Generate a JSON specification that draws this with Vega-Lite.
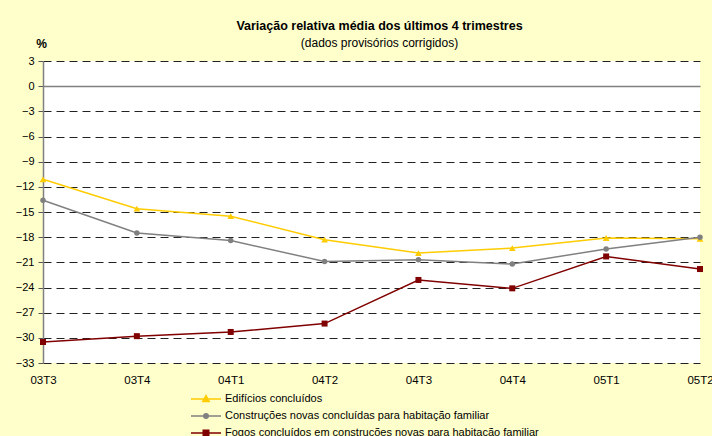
{
  "$schema": "https://vega.github.io/schema/vega-lite/v6.json",
  "width": 657,
  "height": 302,
  "autosize": {"type": "none"},
  "padding": {"left": 43, "top": 61, "right": 12, "bottom": 73},
  "background": "#FFFFCC",
  "config": {
    "font": "Liberation Sans",
    "view": {"fill": "white", "stroke": null}
  },
  "title": {
    "text": "Variação relativa média dos últimos 4 trimestres",
    "subtitle": "(dados provisórios corrigidos)",
    "anchor": "middle",
    "dx": 8,
    "fontSize": 12.5,
    "fontWeight": "bold",
    "color": "black",
    "subtitleFontSize": 12,
    "subtitleColor": "black",
    "subtitlePadding": 6,
    "offset": -12
  },
  "data": {
    "values": [
      {"trimestre": "03T3", "serie": "Edifícios concluídos", "valor": -11.1},
      {"trimestre": "03T4", "serie": "Edifícios concluídos", "valor": -14.6},
      {"trimestre": "04T1", "serie": "Edifícios concluídos", "valor": -15.5},
      {"trimestre": "04T2", "serie": "Edifícios concluídos", "valor": -18.3},
      {"trimestre": "04T3", "serie": "Edifícios concluídos", "valor": -19.9},
      {"trimestre": "04T4", "serie": "Edifícios concluídos", "valor": -19.3},
      {"trimestre": "05T1", "serie": "Edifícios concluídos", "valor": -18.1},
      {"trimestre": "05T2", "serie": "Edifícios concluídos", "valor": -18.2},
      {"trimestre": "03T3", "serie": "Construções novas concluídas para habitação familiar", "valor": -13.6},
      {"trimestre": "03T4", "serie": "Construções novas concluídas para habitação familiar", "valor": -17.5},
      {"trimestre": "04T1", "serie": "Construções novas concluídas para habitação familiar", "valor": -18.4},
      {"trimestre": "04T2", "serie": "Construções novas concluídas para habitação familiar", "valor": -20.9},
      {"trimestre": "04T3", "serie": "Construções novas concluídas para habitação familiar", "valor": -20.7},
      {"trimestre": "04T4", "serie": "Construções novas concluídas para habitação familiar", "valor": -21.2},
      {"trimestre": "05T1", "serie": "Construções novas concluídas para habitação familiar", "valor": -19.4},
      {"trimestre": "05T2", "serie": "Construções novas concluídas para habitação familiar", "valor": -18.0},
      {"trimestre": "03T3", "serie": "Fogos concluídos em construções novas para habitação familiar", "valor": -30.5},
      {"trimestre": "03T4", "serie": "Fogos concluídos em construções novas para habitação familiar", "valor": -29.8},
      {"trimestre": "04T1", "serie": "Fogos concluídos em construções novas para habitação familiar", "valor": -29.3},
      {"trimestre": "04T2", "serie": "Fogos concluídos em construções novas para habitação familiar", "valor": -28.3},
      {"trimestre": "04T3", "serie": "Fogos concluídos em construções novas para habitação familiar", "valor": -23.1},
      {"trimestre": "04T4", "serie": "Fogos concluídos em construções novas para habitação familiar", "valor": -24.1},
      {"trimestre": "05T1", "serie": "Fogos concluídos em construções novas para habitação familiar", "valor": -20.3},
      {"trimestre": "05T2", "serie": "Fogos concluídos em construções novas para habitação familiar", "valor": -21.8}
    ]
  },
  "encoding": {
    "x": {
      "field": "trimestre",
      "type": "ordinal",
      "scale": {"type": "point", "padding": 0},
      "axis": {
        "title": null,
        "domain": false,
        "ticks": false,
        "grid": false,
        "labelAngle": 0,
        "labelFontSize": 11.5,
        "labelColor": "black",
        "labelPadding": 11
      }
    },
    "y": {
      "field": "valor",
      "type": "quantitative",
      "scale": {"domain": [-33, 3], "nice": false, "zero": false},
      "axis": {
        "values": [-33, -30, -27, -24, -21, -18, -15, -12, -9, -6, -3, 0, 3],
        "title": "%",
        "titleAngle": 0,
        "titleX": -2,
        "titleY": -18,
        "titleAlign": "center",
        "titleBaseline": "middle",
        "titleFontSize": 12,
        "titleFontWeight": "bold",
        "titleColor": "black",
        "labelFontSize": 11,
        "labelColor": "black",
        "labelPadding": 4,
        "tickSize": 5,
        "tickColor": "#555555",
        "domainColor": "#808080",
        "domainWidth": 1.5,
        "grid": true,
        "gridColor": {"condition": {"test": "datum.value === 0", "value": "#808080"}, "value": "#222222"},
        "gridWidth": {"condition": {"test": "datum.value === 0", "value": 1.6}, "value": 1},
        "gridDash": {"condition": {"test": "datum.value === 0", "value": []}, "value": [8, 5]}
      }
    },
    "color": {
      "field": "serie",
      "type": "nominal",
      "scale": {
        "domain": ["Edifícios concluídos", "Construções novas concluídas para habitação familiar", "Fogos concluídos em construções novas para habitação familiar"],
        "range": ["#FFCC00", "#808080", "#800000"]
      },
      "legend": {
        "title": null,
        "orient": "none",
        "legendX": 157,
        "legendY": 332,
        "padding": 0,
        "symbolSize": 100,
        "labelOffset": 13,
        "labelFontSize": 11,
        "labelColor": "black",
        "rowPadding": 5,
        "labelLimit": 600,
        "encode": {
          "symbols": {
            "update": {
              "shape": {"signal": "datum.value === 'Edifícios concluídos' ? 'M-3,0H3M0,-0.7L0.65,0.5H-0.65Z' : datum.value === 'Fogos concluídos em construções novas para habitação familiar' ? 'M-3,0H3M-0.55,-0.55H0.55V0.55H-0.55Z' : 'M-3,0H3M0.45,0A0.45,0.45 0 1,1 -0.45,0A0.45,0.45 0 1,1 0.45,0Z'"},
              "fill": {"scale": "color", "field": "value"},
              "stroke": {"scale": "color", "field": "value"},
              "strokeWidth": {"value": 1.5},
              "opacity": {"value": 1},
              "fillOpacity": {"value": 1}
            }
          }
        }
      }
    }
  },
  "layer": [
    {"mark": {"type": "line", "strokeWidth": 1.5}},
    {
      "transform": [{"filter": "datum.serie === 'Edifícios concluídos'"}],
      "mark": {"type": "point", "filled": true, "opacity": 1, "shape": "triangle-up", "size": 45}
    },
    {
      "transform": [{"filter": "datum.serie === 'Construções novas concluídas para habitação familiar'"}],
      "mark": {"type": "point", "filled": true, "opacity": 1, "shape": "circle", "size": 30}
    },
    {
      "transform": [{"filter": "datum.serie === 'Fogos concluídos em construções novas para habitação familiar'"}],
      "mark": {"type": "point", "filled": true, "opacity": 1, "shape": "square", "size": 36}
    }
  ]
}
